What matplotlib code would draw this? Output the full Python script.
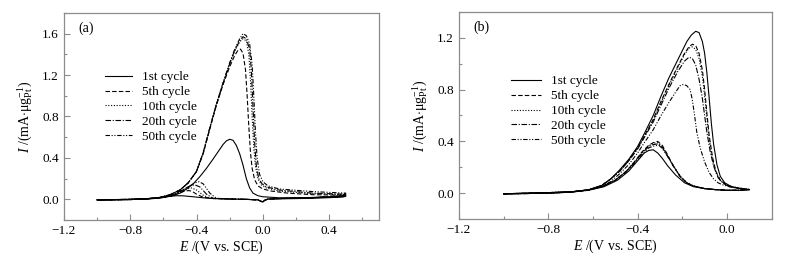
import numpy as np
import matplotlib
matplotlib.use("Agg")
import matplotlib.pyplot as plt
from matplotlib.ticker import MultipleLocator

plt.rcParams['font.family'] = ['Liberation Serif', 'DejaVu Serif']
plt.rcParams['mathtext.fontset'] = 'custom'
plt.rcParams['mathtext.rm'] = 'Liberation Serif'
plt.rcParams['mathtext.it'] = 'Liberation Serif:italic'

labels = ['1st cycle', '5th cycle', '10th cycle', '20th cycle', '50th cycle']

# panel (a): (E, I), forward scan then backward scan
a_1st = [(-1.00, -0.005), (-0.90, -0.004), (-0.80, -0.002), (-0.70, 0.003), (-0.62, 0.012),
         (-0.56, 0.03), (-0.50, 0.06), (-0.46, 0.10), (-0.42, 0.15), (-0.38, 0.22), (-0.34, 0.30),
         (-0.30, 0.39), (-0.27, 0.46), (-0.24, 0.53), (-0.22, 0.565), (-0.20, 0.58), (-0.18, 0.57),
         (-0.16, 0.52), (-0.14, 0.44), (-0.12, 0.33), (-0.10, 0.20), (-0.08, 0.11), (-0.06, 0.06),
         (-0.03, 0.035), (0.00, 0.025), (0.10, 0.015), (0.30, 0.018), (0.50, 0.03),
         (0.48, 0.022), (0.30, 0.01), (0.10, 0.005), (0.03, 0.002), (0.01, -0.01), (0.00, -0.025),
         (-0.01, -0.022), (-0.03, -0.005), (-0.10, 0.0), (-0.20, 0.003), (-0.30, 0.008),
         (-0.36, 0.015), (-0.42, 0.025), (-0.48, 0.034), (-0.52, 0.035), (-0.56, 0.03),
         (-0.62, 0.018), (-0.70, 0.007), (-0.80, 0.0), (-1.00, -0.005)]
a_5th = [(-1.00, -0.005), (-0.80, -0.002), (-0.70, 0.005), (-0.62, 0.018), (-0.56, 0.045),
         (-0.50, 0.09), (-0.45, 0.16), (-0.40, 0.27), (-0.36, 0.44), (-0.32, 0.68), (-0.28, 0.91),
         (-0.24, 1.11), (-0.20, 1.28), (-0.17, 1.39), (-0.15, 1.44), (-0.135, 1.45), (-0.12, 1.41),
         (-0.105, 1.25), (-0.095, 1.0), (-0.085, 0.7), (-0.075, 0.45), (-0.065, 0.30), (-0.05, 0.19),
         (-0.03, 0.13), (0.00, 0.10), (0.05, 0.08), (0.15, 0.06), (0.30, 0.045), (0.50, 0.04),
         (0.48, 0.03), (0.30, 0.015), (0.10, 0.007), (0.03, 0.003), (0.01, -0.01), (0.00, -0.022),
         (-0.01, -0.02), (-0.03, -0.005), (-0.10, 0.0), (-0.20, 0.003), (-0.30, 0.008),
         (-0.36, 0.02), (-0.40, 0.05), (-0.43, 0.08), (-0.45, 0.085), (-0.48, 0.075), (-0.52, 0.05),
         (-0.56, 0.032), (-0.62, 0.015), (-0.70, 0.005), (-0.80, 0.0), (-1.00, -0.005)]
a_10th = [(-1.00, -0.005), (-0.80, -0.002), (-0.70, 0.005), (-0.62, 0.018), (-0.56, 0.045),
          (-0.50, 0.09), (-0.45, 0.16), (-0.40, 0.27), (-0.36, 0.45), (-0.32, 0.69), (-0.28, 0.92),
          (-0.24, 1.12), (-0.20, 1.31), (-0.17, 1.43), (-0.14, 1.52), (-0.12, 1.55), (-0.10, 1.53),
          (-0.085, 1.40), (-0.075, 1.15), (-0.065, 0.8), (-0.055, 0.5), (-0.045, 0.32), (-0.03, 0.2),
          (-0.01, 0.14), (0.02, 0.11), (0.10, 0.08), (0.30, 0.055), (0.50, 0.045),
          (0.48, 0.032), (0.30, 0.016), (0.10, 0.007), (0.03, 0.003), (0.01, -0.01), (0.00, -0.022),
          (-0.01, -0.02), (-0.03, -0.005), (-0.10, 0.0), (-0.20, 0.003), (-0.32, 0.01),
          (-0.36, 0.04), (-0.40, 0.09), (-0.43, 0.11), (-0.46, 0.10), (-0.50, 0.07), (-0.55, 0.04),
          (-0.62, 0.016), (-0.70, 0.005), (-0.80, 0.0), (-1.00, -0.005)]
a_20th = [(-1.00, -0.005), (-0.80, -0.002), (-0.70, 0.005), (-0.62, 0.018), (-0.56, 0.045),
          (-0.50, 0.09), (-0.45, 0.16), (-0.40, 0.27), (-0.36, 0.45), (-0.32, 0.69), (-0.28, 0.92),
          (-0.24, 1.12), (-0.20, 1.31), (-0.17, 1.44), (-0.14, 1.53), (-0.12, 1.57), (-0.10, 1.55),
          (-0.08, 1.45), (-0.07, 1.25), (-0.06, 0.9), (-0.05, 0.55), (-0.04, 0.33), (-0.025, 0.2),
          (-0.005, 0.15), (0.02, 0.12), (0.10, 0.09), (0.30, 0.06), (0.50, 0.05),
          (0.48, 0.034), (0.30, 0.017), (0.10, 0.008), (0.03, 0.003), (0.01, -0.01), (0.00, -0.022),
          (-0.01, -0.02), (-0.03, -0.005), (-0.10, 0.0), (-0.20, 0.004), (-0.30, 0.01),
          (-0.34, 0.05), (-0.38, 0.12), (-0.41, 0.14), (-0.44, 0.13), (-0.48, 0.095), (-0.53, 0.055),
          (-0.58, 0.03), (-0.65, 0.012), (-0.75, 0.002), (-1.00, -0.005)]
a_50th = [(-1.00, -0.005), (-0.80, -0.002), (-0.70, 0.005), (-0.62, 0.018), (-0.56, 0.045),
          (-0.50, 0.09), (-0.45, 0.16), (-0.40, 0.27), (-0.36, 0.45), (-0.32, 0.69), (-0.28, 0.92),
          (-0.24, 1.13), (-0.20, 1.32), (-0.17, 1.45), (-0.14, 1.55), (-0.12, 1.60), (-0.10, 1.58),
          (-0.08, 1.50), (-0.065, 1.30), (-0.055, 1.0), (-0.045, 0.65), (-0.035, 0.40), (-0.02, 0.24),
          (0.00, 0.17), (0.03, 0.13), (0.10, 0.10), (0.30, 0.075), (0.50, 0.06),
          (0.48, 0.036), (0.30, 0.018), (0.10, 0.008), (0.03, 0.003), (0.01, -0.01), (0.00, -0.022),
          (-0.01, -0.02), (-0.03, -0.005), (-0.10, 0.0), (-0.20, 0.004), (-0.28, 0.01),
          (-0.32, 0.06), (-0.36, 0.15), (-0.385, 0.17), (-0.41, 0.16), (-0.45, 0.12), (-0.50, 0.075),
          (-0.55, 0.04), (-0.62, 0.016), (-0.70, 0.005), (-0.80, 0.0), (-1.00, -0.005)]

# panel (b)
b_1st = [(-1.00, -0.005), (-0.90, -0.003), (-0.80, 0.0), (-0.70, 0.008), (-0.62, 0.025),
         (-0.56, 0.06), (-0.52, 0.11), (-0.48, 0.18), (-0.44, 0.26), (-0.40, 0.36), (-0.37, 0.46),
         (-0.33, 0.60), (-0.295, 0.75), (-0.26, 0.89), (-0.22, 1.03), (-0.18, 1.17), (-0.16, 1.22),
         (-0.14, 1.25), (-0.125, 1.24), (-0.11, 1.17), (-0.10, 1.08), (-0.09, 0.93), (-0.08, 0.74),
         (-0.07, 0.54), (-0.06, 0.38), (-0.045, 0.22), (-0.03, 0.13), (-0.01, 0.08), (0.02, 0.05),
         (0.06, 0.035), (0.10, 0.025),
         (0.05, 0.022), (0.00, 0.022), (-0.05, 0.027), (-0.10, 0.035), (-0.15, 0.05), (-0.19, 0.08),
         (-0.23, 0.14), (-0.265, 0.21), (-0.29, 0.27), (-0.31, 0.31), (-0.33, 0.335), (-0.35, 0.33),
         (-0.37, 0.31), (-0.40, 0.25), (-0.44, 0.17), (-0.49, 0.10), (-0.55, 0.05), (-0.62, 0.022),
         (-0.70, 0.01), (-0.80, 0.004), (-1.00, -0.005)]
b_5th = [(-1.00, -0.005), (-0.90, -0.003), (-0.80, 0.0), (-0.70, 0.008), (-0.62, 0.025),
         (-0.56, 0.06), (-0.52, 0.11), (-0.48, 0.17), (-0.44, 0.25), (-0.40, 0.35), (-0.37, 0.44),
         (-0.33, 0.57), (-0.295, 0.71), (-0.26, 0.84), (-0.22, 0.98), (-0.19, 1.08), (-0.17, 1.13),
         (-0.155, 1.15), (-0.14, 1.14), (-0.125, 1.08), (-0.11, 0.95), (-0.10, 0.80), (-0.09, 0.62),
         (-0.08, 0.45), (-0.065, 0.28), (-0.05, 0.17), (-0.03, 0.10), (0.00, 0.06), (0.05, 0.04),
         (0.10, 0.028),
         (0.05, 0.022), (0.00, 0.022), (-0.05, 0.027), (-0.10, 0.035), (-0.15, 0.055), (-0.18, 0.08),
         (-0.21, 0.13), (-0.24, 0.21), (-0.27, 0.31), (-0.29, 0.37), (-0.31, 0.40), (-0.33, 0.39),
         (-0.35, 0.37), (-0.38, 0.32), (-0.41, 0.25), (-0.45, 0.17), (-0.50, 0.10), (-0.56, 0.05),
         (-0.62, 0.025), (-0.70, 0.01), (-0.80, 0.004), (-1.00, -0.005)]
b_10th = [(-1.00, -0.005), (-0.90, -0.003), (-0.80, 0.0), (-0.70, 0.008), (-0.62, 0.025),
          (-0.56, 0.06), (-0.52, 0.11), (-0.48, 0.17), (-0.44, 0.25), (-0.40, 0.35), (-0.37, 0.44),
          (-0.33, 0.56), (-0.295, 0.70), (-0.26, 0.83), (-0.22, 0.97), (-0.19, 1.07), (-0.17, 1.12),
          (-0.155, 1.13), (-0.14, 1.11), (-0.125, 1.04), (-0.11, 0.90), (-0.10, 0.75), (-0.09, 0.58),
          (-0.08, 0.42), (-0.065, 0.26), (-0.05, 0.16), (-0.03, 0.10), (0.00, 0.06), (0.05, 0.04),
          (0.10, 0.028),
          (0.05, 0.022), (0.00, 0.022), (-0.05, 0.027), (-0.10, 0.035), (-0.15, 0.055), (-0.18, 0.08),
          (-0.21, 0.13), (-0.24, 0.21), (-0.27, 0.30), (-0.29, 0.36), (-0.31, 0.39), (-0.33, 0.385),
          (-0.35, 0.365), (-0.38, 0.315), (-0.41, 0.25), (-0.45, 0.17), (-0.50, 0.10), (-0.56, 0.05),
          (-0.62, 0.025), (-0.70, 0.01), (-0.80, 0.004), (-1.00, -0.005)]
b_20th = [(-1.00, -0.005), (-0.90, -0.003), (-0.80, 0.0), (-0.70, 0.008), (-0.62, 0.025),
          (-0.56, 0.06), (-0.52, 0.11), (-0.48, 0.17), (-0.44, 0.25), (-0.40, 0.34), (-0.37, 0.43),
          (-0.33, 0.55), (-0.295, 0.68), (-0.26, 0.81), (-0.22, 0.94), (-0.19, 1.02), (-0.17, 1.05),
          (-0.155, 1.04), (-0.14, 0.99), (-0.125, 0.88), (-0.11, 0.73), (-0.10, 0.60), (-0.09, 0.47),
          (-0.075, 0.32), (-0.06, 0.21), (-0.04, 0.12), (-0.02, 0.08), (0.01, 0.05), (0.05, 0.038),
          (0.10, 0.028),
          (0.05, 0.022), (0.00, 0.022), (-0.05, 0.027), (-0.10, 0.035), (-0.15, 0.055), (-0.18, 0.08),
          (-0.21, 0.13), (-0.24, 0.21), (-0.27, 0.30), (-0.29, 0.355), (-0.31, 0.38), (-0.33, 0.375),
          (-0.35, 0.36), (-0.38, 0.31), (-0.41, 0.245), (-0.45, 0.17), (-0.50, 0.10), (-0.56, 0.05),
          (-0.62, 0.025), (-0.70, 0.01), (-0.80, 0.004), (-1.00, -0.005)]
b_50th = [(-1.00, -0.005), (-0.90, -0.003), (-0.80, 0.0), (-0.70, 0.007), (-0.62, 0.022),
          (-0.56, 0.05), (-0.52, 0.09), (-0.48, 0.15), (-0.44, 0.22), (-0.40, 0.31), (-0.37, 0.39),
          (-0.33, 0.49), (-0.295, 0.60), (-0.26, 0.70), (-0.23, 0.78), (-0.21, 0.83), (-0.195, 0.84),
          (-0.18, 0.83), (-0.165, 0.80), (-0.155, 0.72), (-0.145, 0.60), (-0.135, 0.47), (-0.12, 0.35),
          (-0.10, 0.24), (-0.08, 0.16), (-0.06, 0.11), (-0.04, 0.08), (-0.02, 0.065), (0.02, 0.045),
          (0.10, 0.03),
          (0.05, 0.022), (0.00, 0.022), (-0.05, 0.027), (-0.10, 0.035), (-0.15, 0.055), (-0.18, 0.08),
          (-0.21, 0.13), (-0.24, 0.21), (-0.27, 0.295), (-0.29, 0.345), (-0.305, 0.37), (-0.325, 0.365),
          (-0.35, 0.35), (-0.38, 0.30), (-0.41, 0.24), (-0.45, 0.165), (-0.50, 0.10), (-0.56, 0.05),
          (-0.62, 0.025), (-0.70, 0.01), (-0.80, 0.004), (-1.00, -0.005)]

styles = ['-', (0, (4, 2)), (0, (1, 1.5)), (0, (5, 1.5, 1, 1.5)), (0, (4, 1.5, 1, 1.5, 1, 1.5))]
gray = '#8c8c8c'

fig = plt.figure(figsize=(7.98, 2.58), dpi=100)
ax1 = fig.add_axes([0.080, 0.147, 0.395, 0.803])
ax2 = fig.add_axes([0.575, 0.151, 0.392, 0.803])


def draw(ax, curves, xlim, ylim, tag, leg_anchor, hlen):
    for c, ls, lab in zip(curves, styles, labels):
        arr = np.array(c)
        ax.plot(arr[:, 0], arr[:, 1], color='black', lw=0.8, linestyle=ls, label=lab)
    ax.set_xlim(*xlim)
    ax.set_ylim(*ylim)
    ax.xaxis.set_major_locator(MultipleLocator(0.4))
    ax.xaxis.set_minor_locator(MultipleLocator(0.2))
    ax.yaxis.set_major_locator(MultipleLocator(0.4))
    ax.yaxis.set_minor_locator(MultipleLocator(0.2))
    ax.tick_params(which='both', direction='in', color=gray, labelsize=9.5, top=False, right=False)
    ax.tick_params(which='major', length=4, width=0.8)
    ax.tick_params(which='minor', length=2.5, width=0.8)
    for s in ax.spines.values():
        s.set_color(gray)
        s.set_linewidth(0.9)
    ax.xaxis.set_major_formatter(plt.FuncFormatter(lambda v, p: f'{v:.1f}'.replace('-', '\u2212')))
    ax.yaxis.set_major_formatter(plt.FuncFormatter(lambda v, p: f'{v:.1f}'))
    ax.set_xlabel('$E$ /(V vs. SCE)', fontsize=10, labelpad=1)
    ax.set_ylabel('$I$ /(mA$\\cdot$μg$_{\\rm Pt}^{-1}$)', fontsize=10, labelpad=5)
    ax.text(0.045, 0.925, tag, transform=ax.transAxes, fontsize=10, va='center')
    ax.legend(loc='upper left', bbox_to_anchor=leg_anchor, frameon=False, fontsize=9.5,
              handlelength=hlen, handletextpad=0.75, labelspacing=0.2, borderaxespad=0)


draw(ax1, [a_1st, a_5th, a_10th, a_20th, a_50th], (-1.2, 0.7), (-0.2, 1.8), '(a)', (0.115, 0.745), 2.0)
draw(ax2, [b_1st, b_5th, b_10th, b_20th, b_50th], (-1.2, 0.2), (-0.2, 1.4), '(b)', (0.15, 0.72), 2.3)

fig.savefig('out.png', dpi=100)
